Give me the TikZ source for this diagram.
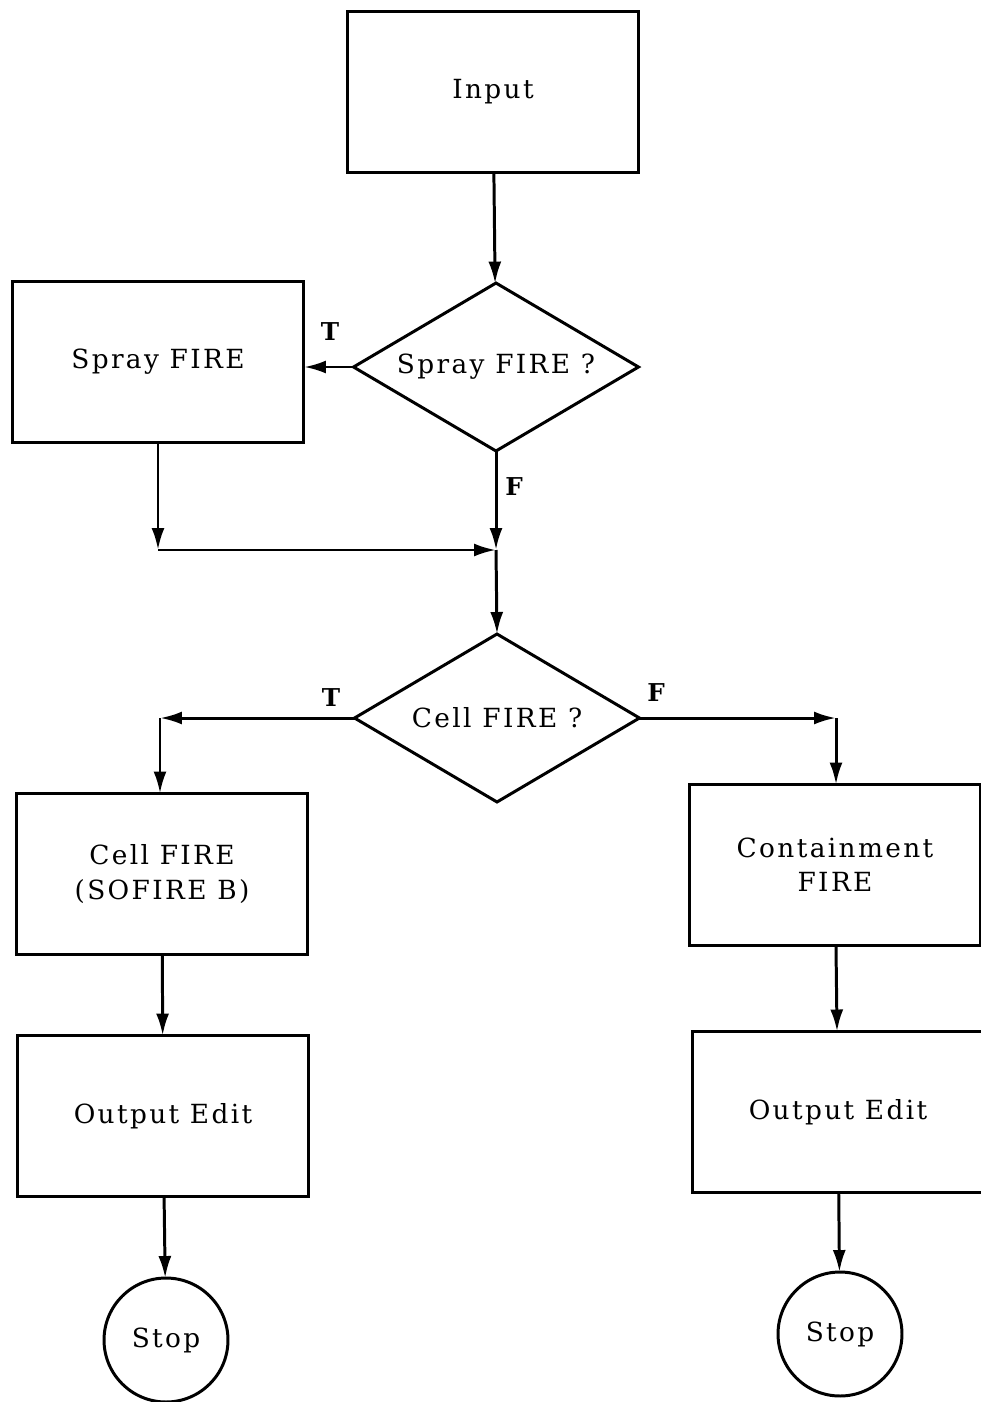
\documentclass[tikz,border=0pt]{standalone}
\usepackage{fontspec}
\setmainfont{DejaVu Serif}[LetterSpace=9]
\usepackage{tikz}
\usetikzlibrary{shapes.geometric,arrows.meta}

\begin{document}
\begin{tikzpicture}[
    x=0.02cm, y=-0.02cm,
    line width=1.7pt,
    every node/.style={outer sep=0pt},
    box/.style={draw, minimum width=5.84cm, minimum height=3.22cm,
                font=\fontsize{15}{19.5}\selectfont, align=center},
    decision/.style={draw, diamond, aspect=1.7, inner sep=0pt,
                minimum width=5.7cm, minimum height=3.36cm,
                font=\fontsize{15}{19.5}\selectfont},
    stopnode/.style={draw, circle, minimum size=2.48cm,
                font=\fontsize{15}{19.5}\selectfont},
    flag/.style={font=\fontsize{14}{16}\selectfont\bfseries},
    arrow/.style={-{Latex[length=0.44cm,width=0.26cm]}}
]
\useasboundingbox (0,0) rectangle (980,1402);

\node[box] (input) at (493,92) {Input};
\node[decision] (sprayq) at (496,367) {Spray FIRE ?};
\node[box] (sprayfire) at (158,362) {Spray FIRE};
\node[decision] (cellq) at (497,718) {Cell FIRE ?};
\node[box] (cellfire) at (162,874) {Cell FIRE\\(SOFIRE B)};
\node[box] (contain) at (835,865) {Containment\\FIRE};
\node[box] (outleft) at (163,1116) {Output Edit};
\node[box] (outright) at (838,1112) {Output Edit};
\node[stopnode] (stopleft) at (166,1340) {Stop};
\node[stopnode] (stopright) at (840,1334) {Stop};

% branch labels
\node[flag] (tspray) at (330,332) {T};
\node[flag] (fspray) at (514,487) {F};
\node[flag] (tcell) at (331,698) {T};
\node[flag] (fcell) at (656,693) {F};

\coordinate (join) at (496,550);
\coordinate (sprayturn) at (158,550);
\coordinate (tturn) at (160,718);
\coordinate (fturn) at (836,718);

\draw[arrow] (input) -- (sprayq);
\draw[arrow] (sprayq.west) -- (sprayfire.east |- sprayq.west);
\draw[arrow] (sprayfire.south) -- (sprayturn);
\draw[arrow] (sprayturn) -- (join);
\draw[arrow] (sprayq.south) -- (join);
\draw[arrow] (join) -- (cellq.north);
\draw[arrow] (cellq.west) -- (tturn);
\draw[arrow] (tturn) -- (tturn |- cellfire.north);
\draw[arrow] (cellq.east) -- (fturn);
\draw[arrow] (fturn) -- (fturn |- contain.north);
\draw[arrow] (cellfire) -- (outleft);
\draw[arrow] (outleft) -- (stopleft);
\draw[arrow] (contain) -- (outright);
\draw[arrow] (outright) -- (stopright);
\end{tikzpicture}
\end{document}
